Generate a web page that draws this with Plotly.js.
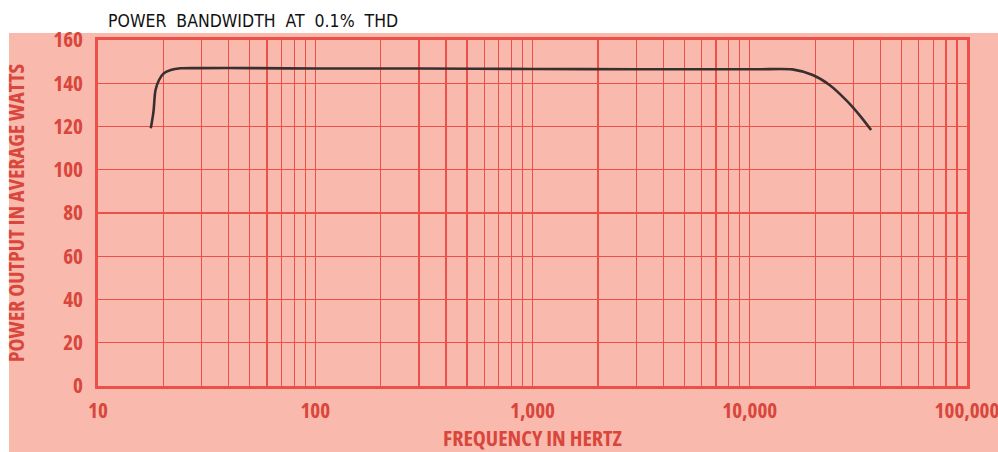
<!DOCTYPE html>
<html>
<head>
<meta charset="utf-8">
<script src="https://cdn.plot.ly/plotly-3.0.1.min.js"></script>
<style>
  html, body { margin: 0; padding: 0; background: #ffffff; }
  #chart { width: 998px; height: 452px; }
  .probe { position: absolute; left: -2000px; top: 0; white-space: pre; font-weight: bold; }
</style>
</head>
<body>
<div id="chart"></div>
<script>
// ---- data ----
var freqHz = [17.5, 18.0, 18.4, 19.1, 20.1, 21.6, 24.0, 30, 50, 100, 300, 1000, 3000, 10000, 11400, 15700, 19500, 23300, 27700, 32000, 36200];
var wattsOut = [119.2, 126.8, 136.9, 141.5, 144.6, 146.1, 146.9, 147.0, 147.0, 146.8, 146.8, 146.6, 146.5, 146.5, 146.5, 146.4, 143.8, 139.2, 132.3, 125.3, 118.4];

var xTickVals = [10, 100, 1000, 10000, 100000];
var xTickText = ['10', '100', '1,000', '10,000', '100,000'];
var yTickVals = [0, 20, 40, 60, 80, 100, 120, 140, 160];
var yTickText = ['0', '20', '40', '60', '80', '100', '120', '140', '160'];
var minorMultipliers = [2, 3, 4, 5, 6, 7, 8, 9];

var chartTitle = 'POWER  BANDWIDTH  AT  0.1%  THD';
var xTitle = 'FREQUENCY IN HERTZ';
var yTitle = 'POWER OUTPUT IN AVERAGE WATTS';

// ---- styling ----
var PINK = '#f9b9ad';
var RED_TEXT = '#d9463c';
var RED_GRID = '#ec5048';
var CURVE = '#3a2f2f';
var TITLEFONT = '"DejaVu Sans Condensed", "DejaVu Sans", sans-serif';

// pick the narrowest available condensed bold face
function textWidth(family, stretch, size, txt) {
  var s = document.createElement('span');
  s.className = 'probe';
  s.style.fontFamily = family;
  s.style.fontStretch = stretch;
  s.style.fontSize = size + 'px';
  s.textContent = txt;
  document.body.appendChild(s);
  var w = s.getBoundingClientRect().width;
  document.body.removeChild(s);
  return w;
}
var candidates = [
  { family: '"Open Sans"', stretch: 'condensed' },
  { family: '"Noto Sans"', stretch: 'condensed' },
  { family: '"DejaVu Sans Condensed", "DejaVu Sans"', stretch: 'normal' }
];
var chosen = candidates[candidates.length - 1];
for (var i = 0; i < candidates.length - 1; i++) {
  var c = candidates[i];
  var wn = textWidth(c.family, 'normal', 21, xTitle);
  var wc = textWidth(c.family, c.stretch, 21, xTitle);
  if (wc < 0.9 * wn) { chosen = c; break; }
}
var NARROW = chosen.family + ', sans-serif';
var st = document.createElement('style');
st.textContent = '#chart .xtick text, #chart .ytick text, #chart text.xtitle, #chart text.ytitle { font-stretch: ' + chosen.stretch + '; }';
document.head.appendChild(st);

// size the red text so its width matches the reference lettering
var titleSize = Math.min(22, 21 * 187 / textWidth(NARROW, chosen.stretch, 21, xTitle));
var tickSize = Math.min(23, 21 * 55 / textWidth(NARROW, chosen.stretch, 21, '10,000'));

var minorVals = [];
xTickVals.slice(0, -1).forEach(function (d) {
  minorMultipliers.forEach(function (m) { minorVals.push(d * m); });
});

var W = 998, H = 452;
var M = { l: 98, r: 31, t: 40, b: 66 };
var pw = W - M.l - M.r, ph = H - M.t - M.b;

var trace = {
  x: freqHz,
  y: wattsOut,
  type: 'scatter',
  mode: 'lines',
  line: { color: CURVE, width: 2.6, shape: 'spline', smoothing: 0.8 },
  hoverinfo: 'x+y'
};

var layout = {
  width: W,
  height: H,
  margin: M,
  paper_bgcolor: '#ffffff',
  plot_bgcolor: PINK,
  showlegend: false,
  title: {
    text: chartTitle,
    font: { family: TITLEFONT, size: 17.5, color: '#111111' },
    x: 108 / W, xref: 'container', xanchor: 'left',
    y: 1 - 21 / H, yref: 'container', yanchor: 'middle'
  },
  shapes: [{
    type: 'rect', xref: 'paper', yref: 'paper', layer: 'below',
    x0: (9 - M.l) / pw, x1: (W - M.l) / pw,
    y0: -(M.b) / ph, y1: (H - M.b - 33) / ph,
    fillcolor: PINK, line: { width: 0 }
  }],
  xaxis: {
    type: 'log',
    range: [1, 5],
    tickmode: 'array',
    tickvals: xTickVals,
    ticktext: xTickText,
    ticks: '',
    ticklabelstandoff: 4,
    ticklabeloverflow: 'allow',
    tickfont: { family: NARROW, size: tickSize, color: RED_TEXT, weight: 'bold' },
    showgrid: true,
    gridcolor: RED_GRID,
    gridwidth: 1.4,
    minor: { tickmode: 'array', tickvals: minorVals, showgrid: true, gridcolor: RED_GRID, gridwidth: 1.25, ticks: '' },
    showline: true, mirror: true, linecolor: RED_GRID, linewidth: 2.8,
    zeroline: false,
    title: { text: xTitle, standoff: 19, font: { family: NARROW, size: titleSize, color: RED_TEXT, weight: 'bold' } }
  },
  yaxis: {
    range: [0, 160],
    tickmode: 'array',
    tickvals: yTickVals,
    ticktext: yTickText,
    ticks: '',
    ticklabelstandoff: 8,
    tickfont: { family: NARROW, size: tickSize, color: RED_TEXT, weight: 'bold' },
    showgrid: true,
    gridcolor: RED_GRID,
    gridwidth: 1.4,
    showline: true, mirror: true, linecolor: RED_GRID, linewidth: 2.8,
    zeroline: false,
    title: { text: yTitle, standoff: 18, font: { family: NARROW, size: titleSize, color: RED_TEXT, weight: 'bold' } }
  }
};

Plotly.newPlot('chart', [trace], layout, { staticPlot: true, displayModeBar: false });
</script>
</body>
</html>
